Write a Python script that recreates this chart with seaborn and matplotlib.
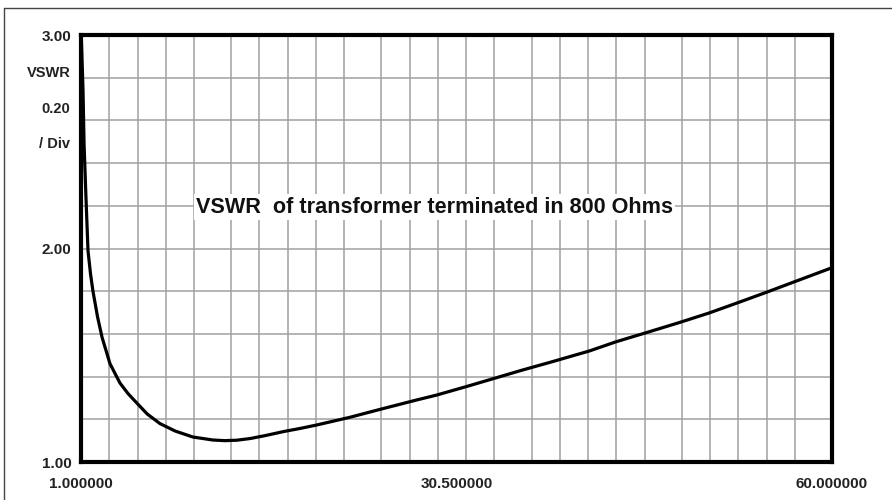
import numpy as np
import pandas as pd
import matplotlib
matplotlib.use("Agg")
import matplotlib.pyplot as plt
import seaborn as sns
from matplotlib.lines import Line2D

# Frequency (MHz) and VSWR
freq = [1.02, 1.10, 1.16, 1.24, 1.39, 1.55, 1.75, 1.94, 2.30, 2.65, 3.28,
        4.06, 4.70, 5.39, 6.20, 7.20, 8.40, 9.79, 11.36, 12.30, 13.24,
        14.30, 15.50, 16.87, 18.20, 19.49, 20.80, 22.10, 24.72, 27.34,
        28.91, 31.26, 33.48, 35.70, 37.80, 40.94, 43.03, 45.64, 48.00,
        50.35, 52.60, 54.90, 57.40, 60.00]
vswr = [3.00, 2.85, 2.74, 2.49, 2.24, 1.99, 1.88, 1.80, 1.68, 1.585, 1.46,
        1.37, 1.32, 1.276, 1.225, 1.18, 1.145, 1.117, 1.103, 1.100, 1.102,
        1.110, 1.124, 1.142, 1.157, 1.173, 1.191, 1.209, 1.250, 1.290,
        1.313, 1.353, 1.392, 1.431, 1.466, 1.520, 1.563, 1.610, 1.653,
        1.698, 1.746, 1.796, 1.852, 1.910]

x_ticks = [1.0, 30.5, 60.0]
x_tick_labels = ["1.000000", "30.500000", "60.000000"]
y_ticks = [1.0, 2.0, 3.0]
y_tick_labels = ["1.00", "2.00", "3.00"]
y_scale_labels = ["VSWR", "0.20", "/ Div"]
title_text = "VSWR  of transformer terminated in 800 Ohms"

df = pd.DataFrame({"freq": freq, "vswr": vswr})

sns.set_theme(style="white")
plt.rcParams["font.family"] = ["Liberation Sans", "DejaVu Sans"]

fig = plt.figure(figsize=(8.92, 5.0), dpi=100)
ax = fig.add_axes([0.0908, 0.076, 0.8419, 0.854])

# grid: 5 groups, each split into narrow cells plus one wider cell
grid_color = "#a0a0a0"
group_w = 11.8
cell_w = 2.22
for g in range(5):
    base = 1.0 + g * group_w
    for j in range(1, 5):
        ax.axvline(base + j * cell_w, color=grid_color, lw=1.1, zorder=1)
    if g < 4:
        ax.axvline(base + group_w, color=grid_color, lw=1.1, zorder=1)
for yv in np.arange(1.2, 2.81, 0.2):
    ax.axhline(yv, color=grid_color, lw=1.1, zorder=1)

sns.lineplot(data=df, x="freq", y="vswr", ax=ax, color="black",
             linewidth=2.3, zorder=3)

ax.set_xlim(1.0, 60.0)
ax.set_ylim(1.0, 3.0)
ax.set_xlabel("")
ax.set_ylabel("")

ax.set_xticks(x_ticks)
ax.set_xticklabels(x_tick_labels, fontsize=11, fontweight="bold",
                   color="#222222")
ax.set_xticks([30.5], minor=True)
ax.tick_params(axis="x", which="major", length=0, pad=11)
ax.tick_params(axis="x", which="minor", length=7, width=3, color="black",
               direction="out", bottom=True)
ax.set_yticks(y_ticks)
ax.set_yticklabels(y_tick_labels, fontsize=11, fontweight="bold",
                   color="#222222")
ax.tick_params(axis="y", length=0, pad=7)

for sp in ax.spines.values():
    sp.set_color("black")
    sp.set_linewidth(3.0)
    sp.set_zorder(4)

# vertical-scale caption beside the y axis
for lab, yv in zip(y_scale_labels, [2.82, 2.655, 2.49]):
    ax.text(-0.014, (yv - 1.0) / 2.0, lab, transform=ax.transAxes,
            ha="right", va="center", fontsize=10.5, fontweight="bold",
            color="#222222")

ax.text(10.02, 2.194, title_text, ha="left", va="center", fontsize=15.6,
        fontweight="bold", color="#111111", zorder=5,
        bbox=dict(facecolor="white", edgecolor="none", pad=1.5))

# outer frame edges (top and left)
fig.add_artist(Line2D([0.0045, 1.0], [0.984, 0.984], transform=fig.transFigure,
                      color="#444444", linewidth=1.0))
fig.add_artist(Line2D([0.0045, 0.0045], [0.0, 0.984], transform=fig.transFigure,
                      color="#444444", linewidth=1.0))

fig.savefig("out.png", dpi=100, facecolor="white")
